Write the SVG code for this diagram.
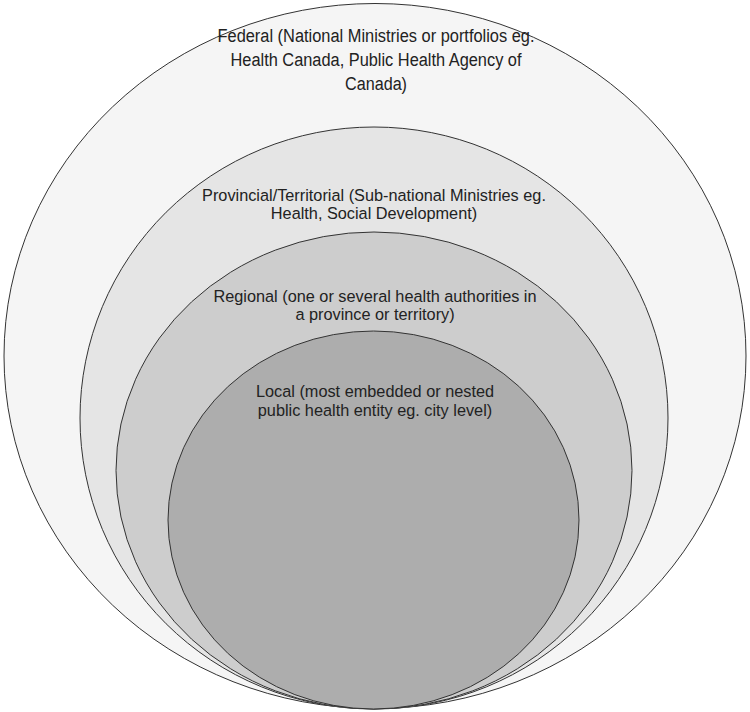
<svg xmlns="http://www.w3.org/2000/svg" width="750" height="712" viewBox="0 0 750 712">
<style>
.ring{stroke:#333333;stroke-width:1}
.t{font-family:"Liberation Sans",Arial,sans-serif;font-size:16.3px;fill:#222;text-anchor:middle}
.tf{font-family:"Liberation Sans",Arial,sans-serif;font-size:18px;fill:#222;text-anchor:middle}
</style>
<rect width="750" height="712" fill="#ffffff"/>
<g id="federal">
<ellipse class="ring" cx="375" cy="356" rx="371" ry="352.5" fill="#f5f5f5"/>
<text class="tf" x="376" y="42" textLength="317" lengthAdjust="spacingAndGlyphs">Federal (National Ministries or portfolios eg.</text>
<text class="tf" x="376" y="66" textLength="291" lengthAdjust="spacingAndGlyphs">Health Canada, Public Health Agency of</text>
<text class="tf" x="376" y="90" textLength="62" lengthAdjust="spacingAndGlyphs">Canada)</text>
</g>
<g id="provincial">
<ellipse class="ring" cx="374" cy="418" rx="294" ry="291" fill="#e5e5e5"/>
<text class="t" x="374" y="200.5">Provincial/Territorial (Sub-national Ministries eg.</text>
<text class="t" x="374" y="219">Health, Social Development)</text>
</g>
<g id="regional">
<ellipse class="ring" cx="374" cy="470.5" rx="258" ry="238.5" fill="#cdcdcd"/>
<text class="t" x="375" y="301.5">Regional (one or several health authorities in</text>
<text class="t" x="375" y="320">a province or territory)</text>
</g>
<g id="local">
<ellipse class="ring" cx="373.5" cy="520" rx="205.5" ry="189" fill="#adadad"/>
<text class="t" x="375" y="397">Local (most embedded or nested</text>
<text class="t" x="375" y="416">public health entity eg. city level)</text>
</g>
<g id="connectors"/>
</svg>
